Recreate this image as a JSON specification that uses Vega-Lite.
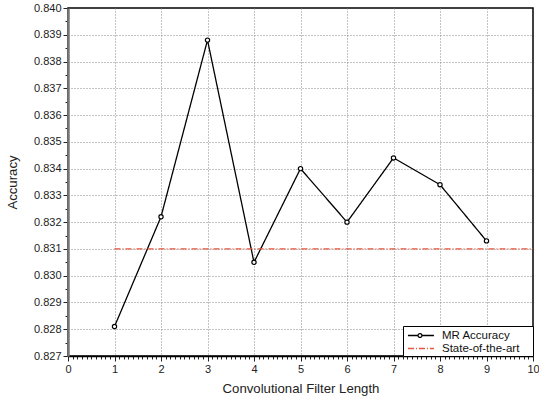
{
  "$schema": "https://vega.github.io/schema/vega-lite/v6.json",
  "width": 465,
  "height": 348,
  "autosize": {"type": "none"},
  "padding": {"left": 68, "top": 8, "right": 6, "bottom": 44},
  "background": "white",
  "config": {
    "font": "Liberation Sans",
    "view": {"stroke": "black", "strokeWidth": 1.5},
    "axis": {
      "labelFont": "Liberation Sans",
      "titleFont": "Liberation Sans",
      "labelFontSize": 11,
      "titleFontSize": 13.2,
      "titleFontWeight": "normal",
      "labelColor": "#222",
      "titleColor": "#222",
      "gridColor": "#888",
      "gridDash": [1, 2],
      "gridWidth": 1,
      "tickColor": "#222",
      "labelOverlap": false,
      "labelFlush": false
    },
    "legend": {
      "strokeColor": "black",
      "fillColor": "white",
      "padding": 2,
      "labelFont": "Liberation Sans",
      "labelFontSize": 11.5,
      "labelColor": "#111"
    }
  },
  "data": {
    "values": [
      {"x": 1, "acc": 0.8281, "series": "MR Accuracy"},
      {"x": 2, "acc": 0.8322, "series": "MR Accuracy"},
      {"x": 3, "acc": 0.8388, "series": "MR Accuracy"},
      {"x": 4, "acc": 0.8305, "series": "MR Accuracy"},
      {"x": 5, "acc": 0.834, "series": "MR Accuracy"},
      {"x": 6, "acc": 0.832, "series": "MR Accuracy"},
      {"x": 7, "acc": 0.8344, "series": "MR Accuracy"},
      {"x": 8, "acc": 0.8334, "series": "MR Accuracy"},
      {"x": 9, "acc": 0.8313, "series": "MR Accuracy"},
      {"x": 1, "acc": 0.831, "series": "State-of-the-art"},
      {"x": 10, "acc": 0.831, "series": "State-of-the-art"}
    ]
  },
  "layer": [
    {
      "mark": {"type": "line", "strokeWidth": 1.3},
      "encoding": {
        "x": {
          "field": "x",
          "type": "quantitative",
          "scale": {"domain": [0, 10], "nice": false, "zero": false},
          "axis": {
            "title": "Convolutional Filter Length",
            "titlePadding": 8,
            "tickCount": 500,
            "values": [0,0.1,0.2,0.3,0.4,0.5,0.6,0.7,0.8,0.9,1,1.1,1.2,1.3,1.4,1.5,1.6,1.7,1.8,1.9,2,2.1,2.2,2.3,2.4,2.5,2.6,2.7,2.8,2.9,3,3.1,3.2,3.3,3.4,3.5,3.6,3.7,3.8,3.9,4,4.1,4.2,4.3,4.4,4.5,4.6,4.7,4.8,4.9,5,5.1,5.2,5.3,5.4,5.5,5.6,5.7,5.8,5.9,6,6.1,6.2,6.3,6.4,6.5,6.6,6.7,6.8,6.9,7,7.1,7.2,7.3,7.4,7.5,7.6,7.7,7.8,7.9,8,8.1,8.2,8.3,8.4,8.5,8.6,8.7,8.8,8.9,9,9.1,9.2,9.3,9.4,9.5,9.6,9.7,9.8,9.9,10],
            "labelExpr": "abs(datum.value - round(datum.value)) < 0.01 ? format(datum.value, 'd') : ''",
            "tickSize": {"condition": {"test": "abs(datum.value - round(datum.value)) < 0.01", "value": 5}, "value": 3},
            "gridOpacity": {"condition": {"test": "abs(datum.value - round(datum.value)) < 0.01 && datum.value > 0.5 && datum.value < 9.5", "value": 1}, "value": 0},
            "domainColor": "black",
            "domainWidth": 1.5,
            "labelPadding": 2
          }
        },
        "y": {
          "field": "acc",
          "type": "quantitative",
          "scale": {"domain": [0.827, 0.84], "nice": false, "zero": false},
          "axis": {
            "title": "Accuracy",
            "titlePadding": 14,
            "tickCount": 500,
            "values": [0.827,0.8275,0.828,0.8285,0.829,0.8295,0.83,0.8305,0.831,0.8315,0.832,0.8325,0.833,0.8335,0.834,0.8345,0.835,0.8355,0.836,0.8365,0.837,0.8375,0.838,0.8385,0.839,0.8395,0.84],
            "labelExpr": "abs(datum.value*1000 - round(datum.value*1000)) < 0.01 ? format(datum.value, '.3f') : ''",
            "tickSize": {"condition": {"test": "abs(datum.value*1000 - round(datum.value*1000)) < 0.01", "value": 5}, "value": 3},
            "gridOpacity": {"condition": {"test": "abs(datum.value*1000 - round(datum.value*1000)) < 0.01 && datum.value > 0.8272 && datum.value < 0.8398", "value": 1}, "value": 0},
            "domainColor": "#777",
            "domainWidth": 2.5,
            "labelPadding": 2
          }
        },
        "color": {
          "field": "series",
          "type": "nominal",
          "scale": {"domain": ["MR Accuracy", "State-of-the-art"], "range": ["black", "#e8553e"]},
          "legend": {
            "title": "\u00a0",
            "titleOrient": "right",
            "titleFontSize": 1,
            "titlePadding": 12,
            "orient": "bottom-right",
            "offset": 0,
            "symbolType": "stroke",
            "symbolSize": 169,
            "symbolStrokeWidth": 1.3,
            "rowPadding": 0,
            "labelOffset": 22,
            "encode": {
              "symbols": {
                "update": {
                  "shape": {"signal": "datum.value == 'MR Accuracy' ? 'M-0.7,0H0.85M3.3,0H1.45M1.45,0A0.3,0.3,0,1,1,0.85,0A0.3,0.3,0,1,1,1.45,0' : 'M-0.7,0H3.3'"}
                }
              }
            }
          }
        },
        "strokeDash": {
          "field": "series",
          "type": "nominal",
          "scale": {"domain": ["MR Accuracy", "State-of-the-art"], "range": [[1, 0], [6, 2, 1, 2]]},
          "legend": {
            "title": "\u00a0",
            "titleOrient": "right",
            "titleFontSize": 1,
            "titlePadding": 12,
            "orient": "bottom-right",
            "offset": 0,
            "symbolType": "stroke",
            "symbolSize": 169,
            "symbolStrokeWidth": 1.3,
            "rowPadding": 0,
            "labelOffset": 22,
            "encode": {
              "symbols": {
                "update": {
                  "shape": {"signal": "datum.value == 'MR Accuracy' ? 'M-0.7,0H0.85M3.3,0H1.45M1.45,0A0.3,0.3,0,1,1,0.85,0A0.3,0.3,0,1,1,1.45,0' : 'M-0.7,0H3.3'"}
                }
              }
            }
          }
        }
      }
    },
    {
      "transform": [{"filter": "datum.series == 'MR Accuracy'"}],
      "mark": {"type": "point", "shape": "circle", "filled": true, "fill": "white", "stroke": "black", "strokeWidth": 1.2, "size": 18, "opacity": 1},
      "encoding": {
        "x": {"field": "x", "type": "quantitative"},
        "y": {"field": "acc", "type": "quantitative"}
      }
    }
  ]
}
